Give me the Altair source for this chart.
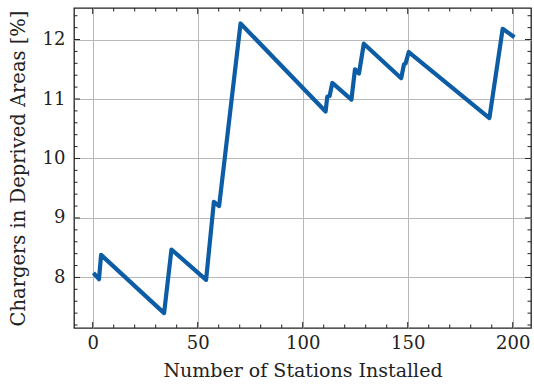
import altair as alt
import pandas as pd

# Stations installed (x) and share of chargers in deprived areas (y, %)
stations = [1, 3, 4, 34, 37.5, 54, 57.7, 60.2, 70.4, 110.9, 111.7, 112.8, 114.1,
            123.2, 124.9, 126.8, 129.1, 146.9, 148.2, 149, 150.5, 188.9, 195.2, 200]
share = [8.05, 7.97, 8.38, 7.40, 8.47, 7.96, 9.27, 9.20, 12.27, 10.79, 11.04, 11.05, 11.27,
         10.99, 11.50, 11.43, 11.93, 11.35, 11.58, 11.60, 11.79, 10.68, 12.18, 12.06]

x_major = [0, 50, 100, 150, 200]
x_minor = [v for v in range(0, 201, 10) if v % 50 != 0]
y_major = [8, 9, 10, 11, 12]
y_minor = [round(7.2 + 0.2 * i, 1) for i in range(27) if round(7.2 + 0.2 * i, 1) % 1 != 0]

W, H = 457, 320
X_DOMAIN = [-8.9, 208.7]
Y_DOMAIN = [7.15, 12.53]
FONT = "DejaVu Serif"
INK = "#222222"

xs = alt.Scale(domain=X_DOMAIN, nice=False, zero=False)
ys = alt.Scale(domain=Y_DOMAIN, nice=False, zero=False)
x_axis = alt.Axis(values=x_major, title="Number of Stations Installed", format="d")
y_axis = alt.Axis(values=y_major, title="Chargers in Deprived Areas [%]", format="d")

df = pd.DataFrame({"stations": stations, "share": share})

line = alt.Chart(df).mark_line(
    color="#0C5DA5", strokeWidth=4.2, strokeJoin="round", strokeCap="square"
).encode(
    x=alt.X("stations:Q", scale=xs, axis=x_axis),
    y=alt.Y("share:Q", scale=ys, axis=y_axis),
)


def x_ticks(vals, length):
    d = pd.DataFrame({"stations": vals})
    base = alt.Chart(d).mark_rule(color=INK, strokeWidth=1)
    enc_x = alt.X("stations:Q", scale=xs, axis=x_axis)
    bottom = base.encode(x=enc_x, y=alt.value(H), y2=alt.value(H - length))
    top = base.encode(x=enc_x, y=alt.value(0), y2=alt.value(length))
    return [bottom, top]


def y_ticks(vals, length):
    d = pd.DataFrame({"share": vals})
    base = alt.Chart(d).mark_rule(color=INK, strokeWidth=1)
    enc_y = alt.Y("share:Q", scale=ys, axis=y_axis)
    left = base.encode(y=enc_y, x=alt.value(0), x2=alt.value(length))
    right = base.encode(y=enc_y, x=alt.value(W), x2=alt.value(W - length))
    return [left, right]


ticks = x_ticks(x_major, 6) + x_ticks(x_minor, 3.5) + y_ticks(y_major, 6) + y_ticks(y_minor, 3.5)

chart = alt.layer(line, *ticks).properties(
    width=W, height=H,
    autosize=alt.AutoSizeParams(type="none"),
    padding={"left": 74, "top": 8, "right": 3, "bottom": 60},
).configure_view(
    stroke=INK, strokeWidth=1.3
).configure_axis(
    ticks=False, domain=False, grid=True,
    gridColor="#b8b8b8", gridWidth=1,
    labelFont=FONT, labelFontSize=18, labelColor=INK,
    titleFont=FONT, titleFontWeight="normal", titleColor=INK,
).configure_axisX(
    labelPadding=6, titlePadding=9, titleFontSize=19,
).configure_axisY(
    labelPadding=9, titlePadding=14, titleFontSize=19.5,
)

chart.save("out.html", embed_options={"renderer": "svg", "actions": False})
